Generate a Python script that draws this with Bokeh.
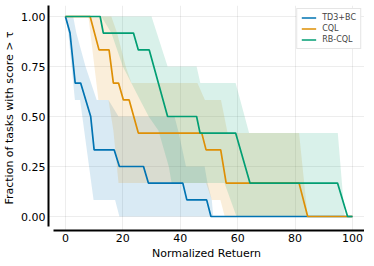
from bokeh.plotting import figure
from bokeh.embed import file_html
from bokeh.resources import INLINE
from bokeh.models import Legend, LegendItem, FixedTicker, Range1d, CustomJSTickFormatter

# ---- data ----
td3_tau = [0, 1.6, 3.4, 5.3, 8.8, 10, 17, 18.8, 27.2, 28.9, 40.9, 42.3, 49.2, 50.7, 100]
td3_frac = [1, 0.917, 0.667, 0.667, 0.5, 0.333, 0.333, 0.25, 0.25, 0.167, 0.167, 0.083, 0.083, 0, 0]
td3_hi_tau = [0, 2.7, 3.8, 7, 10.9, 15, 18.5, 38, 39.5, 42, 48.5, 49.5, 51, 51.5]
td3_hi = [1, 1, 0.917, 0.75, 0.583, 0.583, 0.5, 0.5, 0.417, 0.25, 0.25, 0.167, 0.083, 0]
td3_lo_tau = [0, 1, 3.3, 5.1, 9.8, 17.3, 18.8]
td3_lo = [1, 0.917, 0.583, 0.583, 0.083, 0.083, 0]

cql_tau = [0, 8.6, 11.7, 15.2, 16.7, 18.5, 20.2, 22.2, 25.4, 47.5, 49, 54.1, 56, 81.4, 84.4, 100]
cql_frac = [1, 1, 0.833, 0.833, 0.667, 0.667, 0.583, 0.583, 0.417, 0.417, 0.333, 0.333, 0.167, 0.167, 0, 0]
cql_hi_tau = [0, 16, 18, 21, 23, 46, 48.6, 54.2, 56.5, 81.4, 84.4]
cql_hi = [1, 1, 0.917, 0.75, 0.667, 0.667, 0.583, 0.583, 0.417, 0.417, 0]
cql_lo_tau = [0, 8, 11.5, 15, 16.7, 18.5, 49, 51, 54, 55.5]
cql_lo = [1, 1, 0.583, 0.583, 0.43, 0.167, 0.167, 0.083, 0.083, 0]

rb_tau = [0, 12.1, 13.2, 23.7, 25.4, 29.2, 35.6, 45.7, 46.9, 59.3, 64.3, 94.8, 98.3, 100]
rb_frac = [1, 1, 0.917, 0.917, 0.833, 0.833, 0.5, 0.5, 0.417, 0.417, 0.167, 0.167, 0, 0]
rb_hi_tau = [0, 30, 35.6, 45.7, 47, 59.3, 64, 94.9, 97.3]
rb_hi = [1, 1, 0.75, 0.75, 0.667, 0.667, 0.417, 0.417, 0]
rb_lo_tau = [0, 12.5, 16, 20, 26, 29, 32.4, 36, 37, 55.4, 59.6]
rb_lo = [1, 1, 0.917, 0.75, 0.583, 0.5, 0.43, 0.25, 0.167, 0.167, 0]

names = ["TD3+BC", "CQL", "RB-CQL"]
colors = ["#0173b2", "#de8f05", "#029e73"]
x_ticks = [0, 20, 40, 60, 80, 100]
y_ticks = [0, 0.25, 0.5, 0.75, 1.0]

FONT = "DejaVu Sans"

p = figure(width=364, height=262, output_backend="svg", toolbar_location=None,
           x_range=Range1d(-5.9, 104.2), y_range=Range1d(-0.07, 1.055),
           min_border_top=5, min_border_right=0, min_border_left=0, min_border_bottom=0)
p.outline_line_color = None

series = [
    (td3_tau, td3_frac, td3_hi_tau, td3_hi, td3_lo_tau, td3_lo),
    (cql_tau, cql_frac, cql_hi_tau, cql_hi, cql_lo_tau, cql_lo),
    (rb_tau, rb_frac, rb_hi_tau, rb_hi, rb_lo_tau, rb_lo),
]

for (t, f, ht, h, lt, l), c in zip(series, colors):
    xs = list(ht) + list(reversed(lt))
    ys = list(h) + list(reversed(l))
    p.patch(xs, ys, fill_color=c, fill_alpha=0.15, line_color=None)

items = []
for (t, f, ht, h, lt, l), c, n in zip(series, colors, names):
    r = p.line(t, f, line_color=c, line_width=1.7)
    items.append(LegendItem(label=n, renderers=[r]))

legend = Legend(items=items, location="top_right", label_text_font=FONT,
                label_text_font_size="8px", glyph_width=15, glyph_height=9,
                label_height=9, spacing=2, padding=4, margin=3,
                border_line_color="#cccccc", border_line_width=1,
                background_fill_alpha=1.0, label_standoff=6)
p.add_layout(legend)

p.xaxis.ticker = FixedTicker(ticks=x_ticks)
p.yaxis.ticker = FixedTicker(ticks=y_ticks)
p.yaxis.formatter = CustomJSTickFormatter(code="return tick.toFixed(2);")

p.xaxis.axis_label = "Normalized Retuern"
p.yaxis.axis_label = "Fraction of tasks with score > τ"
for ax in (p.xaxis, p.yaxis):
    ax.axis_label_text_font = FONT
    ax.axis_label_text_font_style = "normal"
    ax.axis_label_text_font_size = "11px"
    ax.axis_label_text_color = "black"
    ax.major_label_text_font = FONT
    ax.major_label_text_font_size = "11px"
    ax.major_label_text_color = "black"
    ax.major_tick_line_color = None
    ax.minor_tick_line_color = None
    ax.major_tick_out = 0
    ax.major_tick_in = 0
    ax.minor_tick_out = 0
    ax.minor_tick_in = 0
    ax.axis_line_color = "black"
    ax.axis_line_width = 2
    ax.axis_label_standoff = 2
    ax.major_label_standoff = 3
p.xaxis.bounds = (-4, 104.2)
p.yaxis.bounds = (-0.05, 1.055)

p.xgrid.grid_line_color = "#000000"
p.xgrid.grid_line_alpha = 0.07
p.ygrid.grid_line_color = "#000000"
p.ygrid.grid_line_alpha = 0.07

open("out.html", "w").write(file_html(p, INLINE))
